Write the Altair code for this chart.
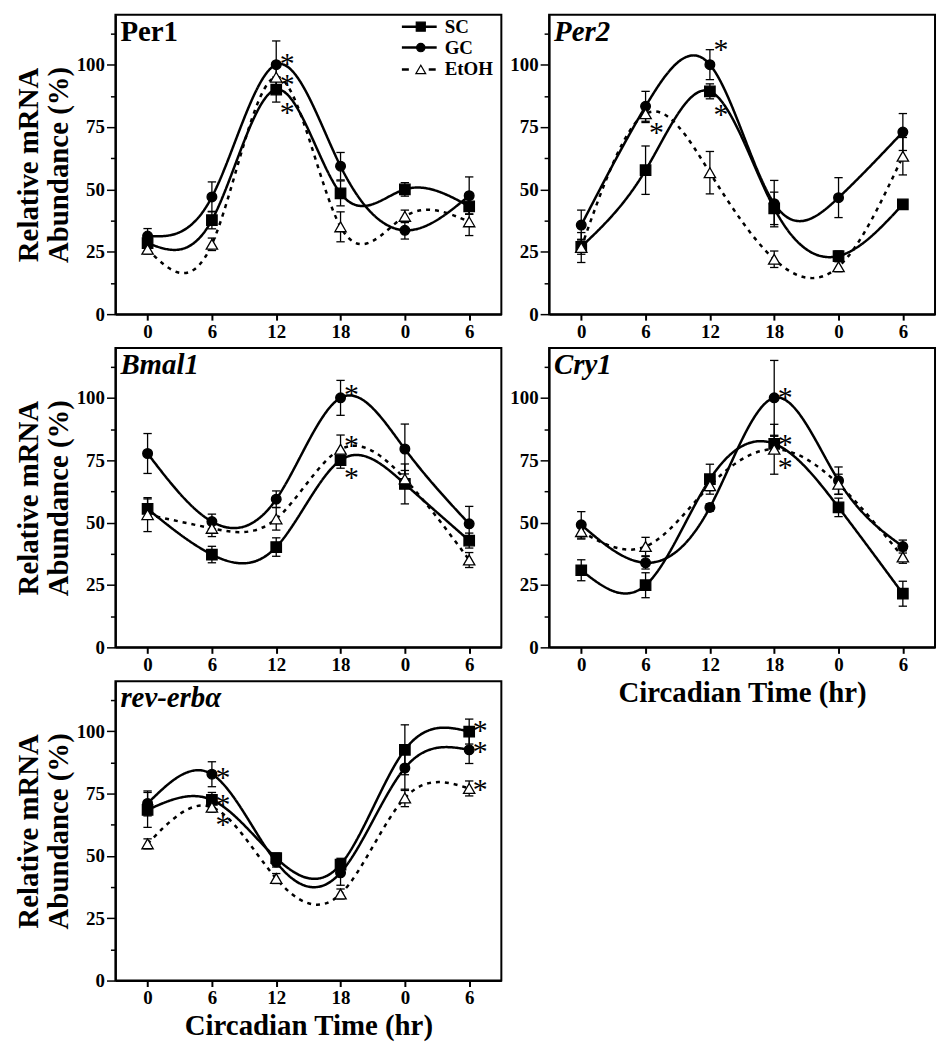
import json
import pandas as pd
import altair as alt

FONT = "Liberation Serif"
SERIES = ["SC", "GC", "EtOH"]
X_LABELS = ["0", "6", "12", "18", "0", "6"]
CT_INDEX = [0, 1, 2, 3, 4, 5]

# ---- Per1 ----
PER1_SC = [28.5, 37.7, 90.0, 48.4, 50.0, 43.2]
PER1_SC_ERR = [2.0, 3.5, 5.0, 5.0, 2.7, 3.0]
PER1_GC = [31.3, 47.0, 100.0, 59.3, 33.6, 47.5]
PER1_GC_ERR = [3.0, 6.0, 9.5, 5.5, 3.5, 7.5]
PER1_ET = [26.0, 28.0, 95.0, 35.0, 39.2, 37.0]
PER1_ET_ERR = [2.0, 2.5, 4.0, 6.0, 2.5, 5.5]
PER1_STAR_SERIES = ["GC", "EtOH", "SC"]
PER1_STAR_IDX = [2, 2, 2]
PER1_STAR_Y = [103.0, 94.5, 83.5]

# ---- Per2 ----
PER2_SC = [27.0, 57.7, 89.3, 42.4, 23.3, 44.0]
PER2_SC_ERR = [3.0, 9.7, 3.0, 6.5, 2.0, 1.5]
PER2_GC = [35.7, 83.3, 100.0, 44.3, 46.7, 73.0]
PER2_GC_ERR = [6.0, 6.0, 6.0, 9.3, 8.0, 7.4]
PER2_ET = [26.7, 80.3, 56.7, 22.0, 19.0, 63.3]
PER2_ET_ERR = [6.0, 3.5, 8.5, 3.3, 2.0, 7.5]
PER2_STAR_SERIES = ["GC", "SC", "EtOH"]
PER2_STAR_IDX = [2, 2, 1]
PER2_STAR_Y = [108.5, 82.5, 75.3]

# ---- Bmal1 ----
BMAL_SC = [55.5, 37.2, 40.2, 75.0, 65.5, 42.8]
BMAL_SC_ERR = [4.0, 3.3, 3.7, 3.2, 8.0, 3.0]
BMAL_GC = [77.7, 50.4, 59.4, 100.0, 79.5, 49.5]
BMAL_GC_ERR = [8.0, 3.0, 3.3, 7.0, 10.0, 7.0]
BMAL_ET = [53.2, 47.7, 51.5, 79.4, 67.5, 35.0]
BMAL_ET_ERR = [6.8, 3.3, 4.5, 5.7, 3.4, 3.0]
BMAL_STAR_SERIES = ["GC", "EtOH", "SC"]
BMAL_STAR_IDX = [3, 3, 3]
BMAL_STAR_Y = [104.0, 83.4, 70.7]

# ---- Cry1 ----
CRY_SC = [30.9, 24.9, 67.4, 81.6, 56.1, 21.5]
CRY_SC_ERR = [4.2, 5.0, 6.0, 3.0, 3.7, 5.0]
CRY_GC = [49.1, 33.9, 56.1, 100.0, 66.8, 40.4]
CRY_GC_ERR = [5.3, 2.5, 1.5, 15.0, 5.5, 2.6]
CRY_ET = [46.4, 40.4, 64.8, 79.4, 65.4, 36.2]
CRY_ET_ERR = [3.0, 3.7, 2.0, 10.0, 4.0, 2.5]
CRY_STAR_SERIES = ["GC", "SC", "EtOH"]
CRY_STAR_IDX = [3, 3, 3]
CRY_STAR_Y = [102.7, 83.8, 74.7]

# ---- rev-erb alpha ----
REV_SC = [68.4, 72.4, 49.1, 46.5, 92.5, 99.8]
REV_SC_ERR = [7.0, 3.0, 2.0, 2.5, 10.0, 5.0]
REV_GC = [71.0, 82.7, 47.5, 43.2, 85.2, 92.5]
REV_GC_ERR = [5.0, 5.0, 2.0, 5.0, 9.0, 5.5]
REV_ET = [54.8, 69.5, 40.9, 34.7, 73.2, 77.0]
REV_ET_ERR = [2.0, 2.0, 2.0, 2.0, 3.5, 3.0]
REV_STAR_SERIES = ["GC", "SC", "EtOH", "SC", "GC", "EtOH"]
REV_STAR_IDX = [1, 1, 1, 5, 5, 5]
REV_STAR_Y = [84.0, 73.0, 65.0, 102.8, 94.3, 79.2]

Y_TICKS = [0, 12.5, 25, 37.5, 50, 62.5, 75, 87.5, 100, 112.5]

STYLE = {
    "SC": dict(shape="square", size=110, fill="black"),
    "GC": dict(shape="circle", size=95, fill="black"),
    "EtOH": dict(shape="triangle-up", size=130, fill="white"),
}


def gene_frame(sc, sc_e, gc, gc_e, et, et_e):
    rows = []
    for s, vals, errs in (("SC", sc, sc_e), ("GC", gc, gc_e), ("EtOH", et, et_e)):
        for i, v, e in zip(CT_INDEX, vals, errs):
            rows.append({"series": s, "idx": i, "val": v, "err": e})
    return pd.DataFrame(rows)


def star_frame(series, idx, ys):
    return pd.DataFrame({"series": series, "idx": idx, "sy": ys})


XSCALE = alt.Scale(domain=[-0.5, 5.5], nice=False, zero=False)
YSCALE = alt.Scale(domain=[0, 120], nice=False)


def x_axis(show_title):
    kw = dict(
        values=CT_INDEX,
        labelExpr=f"{json.dumps(X_LABELS)}[datum.value]",
        tickSize=6,
        tickWidth=2,
        labelPadding=2,
        titleFontSize=29,
        titlePadding=4,
        grid=False,
    )
    kw["title"] = "Circadian Time (hr)" if show_title else None
    return alt.Axis(**kw)


def y_axis(show_title):
    kw = dict(
        values=Y_TICKS,
        labelExpr="datum.value % 25 == 0 ? datum.label : ''",
        tickSize={"condition": {"test": "datum.value % 25 == 0", "value": 9}, "value": 5},
        tickWidth=1.5,
        labelPadding=2,
        titleFontSize=29,
        titleLineHeight=30,
        titlePadding=3,
        grid=False,
    )
    kw["title"] = ["Relative mRNA", "Abundance (%)"] if show_title else None
    return alt.Axis(**kw)


def make_panel(df, stars, title, italic, show_y, show_x, legend=False):
    X = lambda f: alt.X(f, type="quantitative", scale=XSCALE, axis=x_axis(show_x))
    Y = lambda f: alt.Y(f, type="quantitative", scale=YSCALE, axis=y_axis(show_y))
    base = alt.Chart(df)

    lines = base.mark_line(interpolate="natural", color="black", strokeWidth=2.5).encode(
        x=X("idx"), y=Y("val"), detail="series:N",
        strokeDash=alt.StrokeDash("series:N", scale=alt.Scale(domain=SERIES, range=[[1, 0], [1, 0], [4, 5]]), legend=None),
    )
    errs = base.transform_calculate(
        lo="datum.val - datum.err", hi="datum.val + datum.err",
        xl="datum.idx - 0.065", xr="datum.idx + 0.065",
    )
    stem = errs.mark_rule(color="black", strokeWidth=1.3).encode(x=X("idx"), y=Y("lo"), y2="hi:Q")
    cap_top = errs.mark_rule(color="black", strokeWidth=1.3).encode(x=X("xl"), x2="xr:Q", y=Y("hi"))
    cap_bot = errs.mark_rule(color="black", strokeWidth=1.3).encode(x=X("xl"), x2="xr:Q", y=Y("lo"))

    pts = []
    for s in SERIES:
        st = STYLE[s]
        pts.append(
            base.transform_filter(alt.datum.series == s)
            .mark_point(shape=st["shape"], size=st["size"], filled=True, fill=st["fill"],
                        stroke="black", strokeWidth=1.3, opacity=1)
            .encode(x=X("idx"), y=Y("val"))
        )

    star = alt.Chart(stars).mark_text(text="*", font=FONT, fontSize=30, dx=11, dy=7,
                                      align="center", baseline="middle", color="black",
                                      fill="black").encode(
        x=X("idx"), y=Y("sy"))

    ttl = alt.Chart(pd.DataFrame({"t": [title]})).mark_text(
        font=FONT, fontSize=29, fontWeight="bold", fontStyle="italic" if italic else "normal",
        align="left", baseline="alphabetic", color="black",
    ).encode(text="t:N", x=alt.value(5), y=alt.value(26))

    layers = [lines, stem, cap_top, cap_bot] + pts + [star, ttl]

    if legend:
        lx0, lx1, mx, tx = 288, 323, 307, 331
        row_y = [12, 33, 55]
        for s, ry in zip(SERIES, row_y):
            st = STYLE[s]
            ldf = pd.DataFrame({"label": [s]})
            dash = [7, 20] if s == "EtOH" else [1, 0]
            layers.append(alt.Chart(ldf).mark_rule(color="black", strokeWidth=2.5, strokeDash=dash).encode(
                x=alt.value(lx0), x2=alt.value(lx1), y=alt.value(ry)))
            layers.append(alt.Chart(ldf).mark_point(shape=st["shape"], size=st["size"] * 0.75, filled=True,
                                                    fill=st["fill"], stroke="black", strokeWidth=1.2, opacity=1).encode(
                x=alt.value(mx), y=alt.value(ry)))
            layers.append(alt.Chart(ldf).mark_text(font=FONT, fontSize=19, fontWeight="bold", align="left",
                                                   baseline="middle", color="black").encode(
                text="label:N", x=alt.value(tx), y=alt.value(ry)))

    return alt.layer(*layers).properties(width=388, height=301)


per1 = make_panel(gene_frame(PER1_SC, PER1_SC_ERR, PER1_GC, PER1_GC_ERR, PER1_ET, PER1_ET_ERR),
                  star_frame(PER1_STAR_SERIES, PER1_STAR_IDX, PER1_STAR_Y), "Per1", False, True, False, legend=True)
per2 = make_panel(gene_frame(PER2_SC, PER2_SC_ERR, PER2_GC, PER2_GC_ERR, PER2_ET, PER2_ET_ERR),
                  star_frame(PER2_STAR_SERIES, PER2_STAR_IDX, PER2_STAR_Y), "Per2", True, False, False)
bmal = make_panel(gene_frame(BMAL_SC, BMAL_SC_ERR, BMAL_GC, BMAL_GC_ERR, BMAL_ET, BMAL_ET_ERR),
                  star_frame(BMAL_STAR_SERIES, BMAL_STAR_IDX, BMAL_STAR_Y), "Bmal1", True, True, False)
cry = make_panel(gene_frame(CRY_SC, CRY_SC_ERR, CRY_GC, CRY_GC_ERR, CRY_ET, CRY_ET_ERR),
                 star_frame(CRY_STAR_SERIES, CRY_STAR_IDX, CRY_STAR_Y), "Cry1", True, False, True)
rev = make_panel(gene_frame(REV_SC, REV_SC_ERR, REV_GC, REV_GC_ERR, REV_ET, REV_ET_ERR),
                 star_frame(REV_STAR_SERIES, REV_STAR_IDX, REV_STAR_Y), "rev-erbα", True, True, True)

chart = (
    alt.concat(per1, per2, bmal, cry, rev, columns=2,
               spacing={"row": 34, "column": 48}, bounds="flush")
    .configure_view(stroke="black", strokeWidth=2)
    .configure_axis(domainColor="black", domainWidth=2, tickColor="black",
                    labelFont=FONT, labelFontSize=19, labelFontWeight="bold", labelColor="black",
                    titleFont=FONT, titleFontWeight="bold", titleColor="black")
    .properties(padding={"left": 5, "top": 3, "right": 2, "bottom": 2}, background="white")
)

chart.save("out.html", embed_options={"renderer": "svg", "actions": False})
